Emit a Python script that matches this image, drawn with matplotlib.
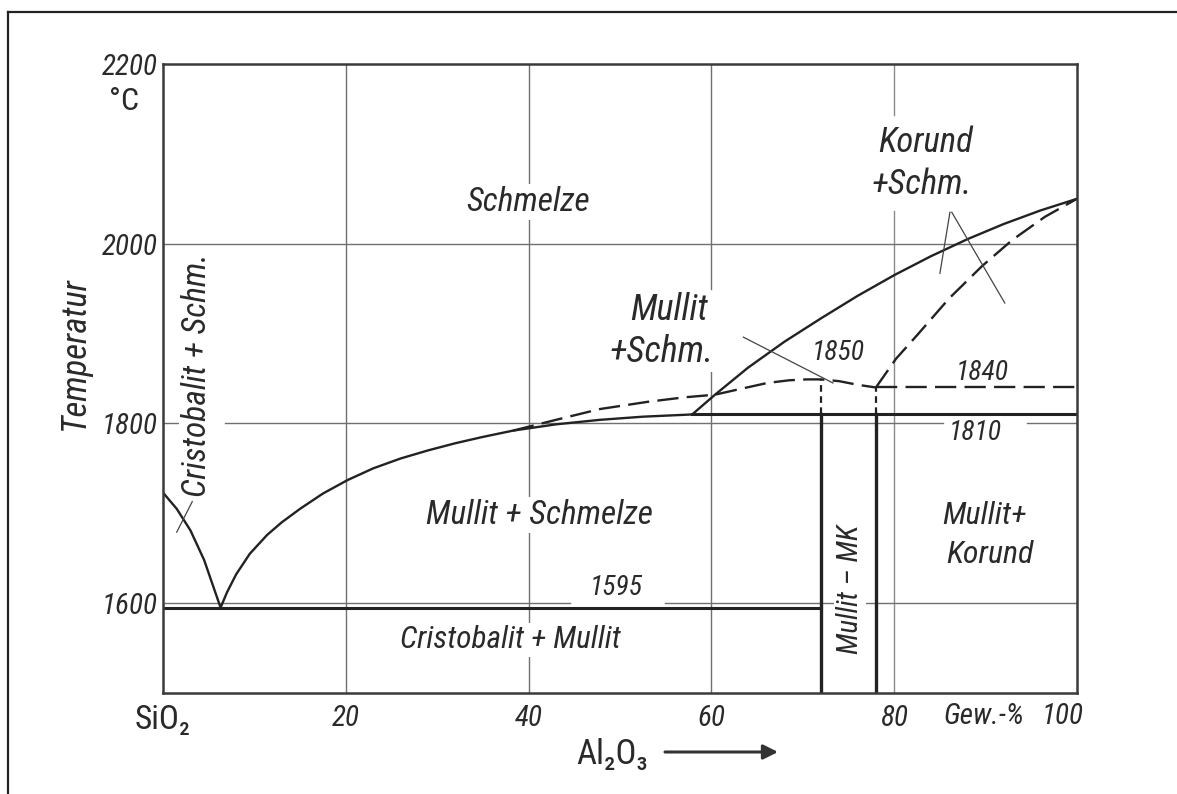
import matplotlib
matplotlib.use("Agg")
import matplotlib.pyplot as plt
from matplotlib import font_manager as fm
from matplotlib.lines import Line2D

# ---------------- data ----------------
# Cristobalite liquidus (SiO2 side down to the eutectic)
x_cristobalite_liq = [0, 1.5, 3.0, 4.5, 6.3]
t_cristobalite_liq = [1723, 1705, 1681, 1648, 1595]
# Mullite liquidus, stable (solid) from eutectic to peritectic kink
x_mullite_liq = [6.3, 7.0, 8.0, 9.5, 11.4, 13.0, 15.0, 17.5, 20.2, 23.0, 26.0, 29.0, 32.0, 35.0, 38.3, 43.0, 47.8, 52.5, 57.9]
t_mullite_liq = [1595, 1612, 1632, 1655, 1676, 1690, 1705, 1722, 1737, 1750, 1761, 1770, 1778, 1785, 1792, 1799, 1804, 1807.5, 1810]
# Upper liquidus (solid) from the kink to pure Al2O3
x_liq_upper = [57.9, 60.4, 64.0, 68.0, 72.0, 76.0, 80.0, 84.0, 88.0, 92.0, 96.0, 100]
t_liq_upper = [1810, 1832, 1862, 1891, 1917, 1942, 1965, 1986, 2005, 2022, 2037, 2050]
# Congruent-melting version (dashed) of the mullite liquidus
x_dashed_mullite = [38.3, 43.0, 47.8, 53.0, 57.0, 60.4, 63.0, 66.1, 68.5, 70.4, 72.0, 74.0, 76.0, 78.0]
t_dashed_mullite = [1792, 1804, 1816, 1824, 1829, 1832, 1838, 1845, 1848, 1849, 1849, 1847, 1843, 1840]
# Corundum liquidus (dashed)
x_dashed_korund = [78.0, 80.2, 82.4, 86.0, 89.6, 92.9, 96.5, 100]
t_dashed_korund = [1840, 1872, 1897, 1939, 1975, 2004, 2030, 2050]
# Invariant lines
t_eutectic = 1595
x_eutectic_range = [0, 72]
t_peritectic = 1810
x_peritectic_range = [57.9, 100]
t_metastable = 1840
x_metastable_range = [78, 100]
# Mullite solid-solution (Mullit-MK) boundaries and their tops
x_mk_bounds = [72, 78]
t_mk_tops = [1849, 1840]

x_ticks = [0, 20, 40, 60, 80]
x_ticklabels = ["SiO\u2082", "20", "40", "60", "80"]
y_ticks = [1600, 1800, 2000, 2200]
y_ticklabels = ["1600", "1800", "2000", "2200"]
v_grid = [20, 40, 60, 80]
h_grid = [1600, 1800, 2000]

# (text, x, T, rotation, size)
region_labels = [
    ("Schmelze", 39.9, 2046, 0, 24),
    ("Korund", 83.4, 2113, 0, 25),
    ("+Schm.", 83.0, 2066, 0, 25),
    ("Mullit", 55.4, 1926, 0, 26),
    ("+Schm.", 54.6, 1880, 0, 26),
    ("Cristobalit + Schm.", 3.7, 1854, 90, 24),
    ("Mullit + Schmelze", 41.2, 1698, 0, 24),
    ("Cristobalit + Mullit", 38.0, 1559, 0, 22.5),
    ("Mullit \u2013 MK", 75.2, 1615, 90, 21),
    ("Mullit+", 89.9, 1698, 0, 23),
    ("Korund", 90.5, 1654, 0, 23),
]
temp_labels = [
    ("1850", 73.9, 1878),
    ("1840", 89.6, 1856),
    ("1810", 88.9, 1789),
    ("1595", 49.6, 1617),
]

# ---------------- fonts ----------------
names = {f.name for f in fm.fontManager.ttflist}
dejavu_cond = any(f.name == "DejaVu Sans" and str(f.stretch) == "condensed" for f in fm.fontManager.ttflist)
if "Roboto Condensed" in names:
    FAM, STR, SC = "Roboto Condensed", "normal", 1.0
elif "Liberation Sans Narrow" in names:
    FAM, STR, SC = "Liberation Sans Narrow", "normal", 1.02
elif dejavu_cond:
    FAM, STR, SC = "DejaVu Sans", "condensed", 0.9
else:
    FAM, STR, SC = "DejaVu Sans", "normal", 0.8
FAMS = [FAM, "DejaVu Sans"]


def fkw(size, italic=True):
    return dict(family=FAMS, fontstretch=STR, fontsize=size * SC,
                fontstyle="italic" if italic else "normal", color="#2a2a2a")


INK = "#222222"
GRID = "#707070"

W, H = 1177, 794
fig = plt.figure(figsize=(W / 100, H / 100), dpi=100)
fig.patch.set_facecolor("white")
ax = fig.add_axes([163 / W, 1 - 693 / H, (1077 - 163) / W, (693 - 64) / H])
ax.set_xlim(0, 100)
ax.set_ylim(1500, 2200)

for s in ax.spines.values():
    s.set_linewidth(1.8)
    s.set_color("#3a3a3a")
    s.set_zorder(6)


# ---------------- grid with gaps ----------------
def segments(lo, hi, gaps):
    out, cur = [], lo
    for a, b in sorted(gaps):
        out.append((cur, a))
        cur = b
    out.append((cur, hi))
    return out


v_gaps = {20: [], 40: [], 60: [(1860, 1950)], 80: [(2036, 2143)]}
h_gaps = {1600: [(44.5, 54.9)], 1800: [(1.7, 6.8), (85.3, 94.5)], 2000: []}
for xv in v_grid:
    for a, b in segments(1500, 2200, v_gaps[xv]):
        ax.plot([xv, xv], [a, b], color=GRID if xv != 80 else "#8a8a8a", lw=1.0, zorder=1)
for tv in h_grid:
    for a, b in segments(0, 100, h_gaps[tv]):
        ax.plot([a, b], [tv, tv], color=GRID, lw=1.0, zorder=1)

# ---------------- phase boundaries ----------------
LW = 1.7
DASH = (0, (9, 3.5))
ax.plot(x_cristobalite_liq, t_cristobalite_liq, color=INK, lw=LW, zorder=5)
ax.plot(x_mullite_liq, t_mullite_liq, color=INK, lw=LW, zorder=5)
ax.plot(x_liq_upper, t_liq_upper, color=INK, lw=LW, zorder=5)
ax.plot(x_dashed_mullite, t_dashed_mullite, color=INK, lw=LW, ls=DASH, zorder=5)
ax.plot(x_dashed_korund, t_dashed_korund, color=INK, lw=LW, ls=DASH, zorder=5)
ax.plot(x_eutectic_range, [t_eutectic] * 2, color=INK, lw=2.2, zorder=5)
ax.plot(x_peritectic_range, [t_peritectic] * 2, color=INK, lw=2.2, zorder=5)
ax.plot(x_metastable_range, [t_metastable] * 2, color=INK, lw=LW, ls=DASH, zorder=5)
for xb, tt in zip(x_mk_bounds, t_mk_tops):
    ax.plot([xb, xb], [1500, t_peritectic], color=INK, lw=2.4, zorder=5)
    ax.plot([xb, xb], [t_peritectic, tt], color=INK, lw=1.6, ls=(0, (3, 2)), zorder=5)

# leader lines
leaders = [((1.5, 1679), (3.2, 1713)),
           ((63.5, 1896), (73.3, 1845)),
           ((86.1, 2035), (85.0, 1967)),
           ((86.3, 2035), (92.1, 1934))]
for (x0, y0), (x1, y1) in leaders:
    ax.plot([x0, x1], [y0, y1], color="#444444", lw=0.9, zorder=5)

# ---------------- labels ----------------
bb = dict(facecolor="white", edgecolor="none", pad=1.5)
for txt, xx, tt, rot, sz in region_labels:
    ax.text(xx, tt, txt, rotation=rot, ha="center", va="center", zorder=4, bbox=bb, **fkw(sz))
for txt, xx, tt in temp_labels:
    ax.text(xx, tt, txt, ha="center", va="center", zorder=4, bbox=bb, **fkw(20))

# ticks
ax.set_xticks(x_ticks)
ax.set_xticklabels(x_ticklabels)
ax.set_yticks(y_ticks)
ax.set_yticklabels(y_ticklabels)
ax.tick_params(axis="both", length=0)
ax.tick_params(axis="x", pad=8)
ax.tick_params(axis="y", pad=4)
for i, lab in enumerate(ax.get_xticklabels()):
    lab.set(**fkw(24 if i == 0 else 21, italic=(i != 0)))
for lab in ax.get_yticklabels():
    lab.set(**fkw(21))

px = lambda x, y: (x / W, 1 - y / H)
fig.text(*px(984, 716), "Gew.-%", ha="center", va="center", **fkw(21))
fig.text(*px(1063, 716), "100", ha="center", va="center", **fkw(21))
fig.text(*px(124, 101), "\u00b0C", ha="center", va="center", **fkw(23, italic=False))
fig.text(*px(74, 353), "Temperatur", rotation=90, ha="center", va="center", **fkw(25))
fig.text(*px(612, 755), "Al\u2082O\u2083", ha="center", va="center", **fkw(25, italic=False))
ax.annotate("", xy=(778, H - 752), xytext=(665, H - 752), xycoords="figure pixels",
            textcoords="figure pixels",
            arrowprops=dict(arrowstyle="-|>", lw=2.2, color="#333333", mutation_scale=22,
                            shrinkA=0, shrinkB=0))

# outer frame (left and top edges visible)
fig.add_artist(Line2D([8 / W, 8 / W], [0, 1 - 12 / H], transform=fig.transFigure, color="#222222", lw=1.6))
fig.add_artist(Line2D([8 / W, 1], [1 - 12 / H, 1 - 12 / H], transform=fig.transFigure, color="#222222", lw=1.6))

fig.savefig("out.png", dpi=100, facecolor="white")
